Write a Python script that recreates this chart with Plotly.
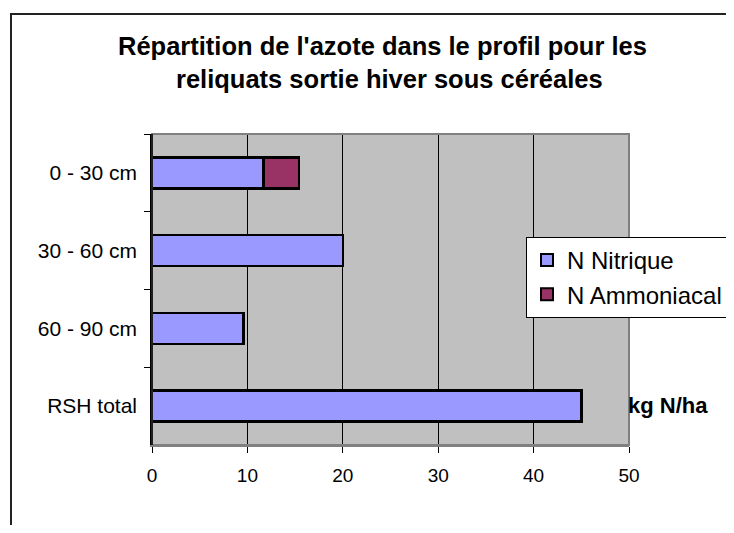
import plotly.graph_objects as go

categories = ["0 - 30 cm", "30 - 60 cm", "60 - 90 cm", "RSH total"]
n_nitrique = [11.7, 20.0, 9.6, 45.0]
n_ammoniacal = [3.7, None, None, None]
x_ticks = [0, 10, 20, 30, 40, 50]

# page has an 8px body margin: figure is shrunk so the page does not scroll
OFF = 8
W, H = 734 - 2 * OFF, 533 - 2 * OFF
# plot area in reference (page) pixels
PL, PR, PT, PB = 152, 629, 134, 445
L, R, T, B = PL - OFF, W - (PR - OFF), PT - OFF, H - (PB - OFF)
PW, PH = W - L - R, H - T - B

def px(x):
    return (x - OFF - L) / PW

def py(y):
    return (H - B - (y - OFF)) / PH

FONT = "Liberation Sans, Arial, sans-serif"

fig = go.Figure()
fig.add_trace(go.Bar(
    y=categories, x=n_nitrique, name="N Nitrique", orientation="h",
    marker=dict(color="#9999FF", line=dict(color="#000000", width=2.5)),
    width=0.4,
))
fig.add_trace(go.Bar(
    y=categories, x=n_ammoniacal, name="N Ammoniacal", orientation="h",
    marker=dict(color="#993366", line=dict(color="#000000", width=2.5)),
    width=0.4,
))

fig.update_layout(
    width=W, height=H, autosize=False,
    margin=dict(l=L, r=R, t=T, b=B, pad=0, autoexpand=False),
    barmode="stack",
    paper_bgcolor="white",
    plot_bgcolor="#C0C0C0",
    font=dict(family=FONT, color="black"),
    showlegend=True,
    legend=dict(
        x=px(526), y=py(237), xanchor="left", yanchor="top",
        bgcolor="white", bordercolor="black", borderwidth=1,
        font=dict(size=24, family=FONT),
        traceorder="normal", itemsizing="constant",
        tracegroupgap=0,
    ),
    xaxis=dict(
        range=[0, 50], tickvals=x_ticks, ticktext=[str(v) for v in x_ticks],
        showgrid=True, gridcolor="#000000", gridwidth=1,
        zeroline=False,
        showline=True, linecolor="#808080", linewidth=2,
        ticks="outside", ticklen=6, tickcolor="black", tickwidth=1,
        tickfont=dict(size=19),
        ticklabelstandoff=6,
        automargin=False,
        fixedrange=True,
    ),
    yaxis=dict(
        categoryorder="array", categoryarray=categories,
        autorange="reversed",
        showgrid=False, zeroline=False,
        showline=True, linecolor="black", linewidth=1.5,
        ticks="outside", ticklen=6, tickcolor="black", tickwidth=1,
        tickson="boundaries",
        tickfont=dict(size=21),
        ticklabelstandoff=9,
        automargin=False,
        fixedrange=True,
    ),
    shapes=[
        dict(type="rect", xref="paper", yref="paper", x0=0, x1=1, y0=0, y1=1,
             line=dict(color="#808080", width=2), fillcolor="rgba(0,0,0,0)", layer="above"),
        dict(type="line", xref="paper", yref="paper", x0=0, x1=0, y0=0, y1=1,
             line=dict(color="black", width=1.5), layer="above"),
        dict(type="rect", xref="paper", yref="paper",
             x0=px(11), x1=px(800), y0=py(600), y1=py(14),
             line=dict(color="#222222", width=2), fillcolor="rgba(0,0,0,0)", layer="below"),
    ],
    annotations=[
        dict(text="<b>Répartition de l'azote dans le profil pour les</b>",
             xref="paper", yref="paper", x=px(382), y=py(46),
             xanchor="center", yanchor="middle", showarrow=False,
             font=dict(size=25.5, family=FONT)),
        dict(text="<b>reliquats sortie hiver sous céréales</b>",
             xref="paper", yref="paper", x=px(389), y=py(79),
             xanchor="center", yanchor="middle", showarrow=False,
             font=dict(size=25.5, family=FONT)),
        dict(text="<b>kg N/ha</b>",
             xref="paper", yref="paper", x=px(668), y=py(405),
             xanchor="center", yanchor="middle", showarrow=False,
             font=dict(size=22, family=FONT)),
    ],
)

fig.write_html("out.html")
